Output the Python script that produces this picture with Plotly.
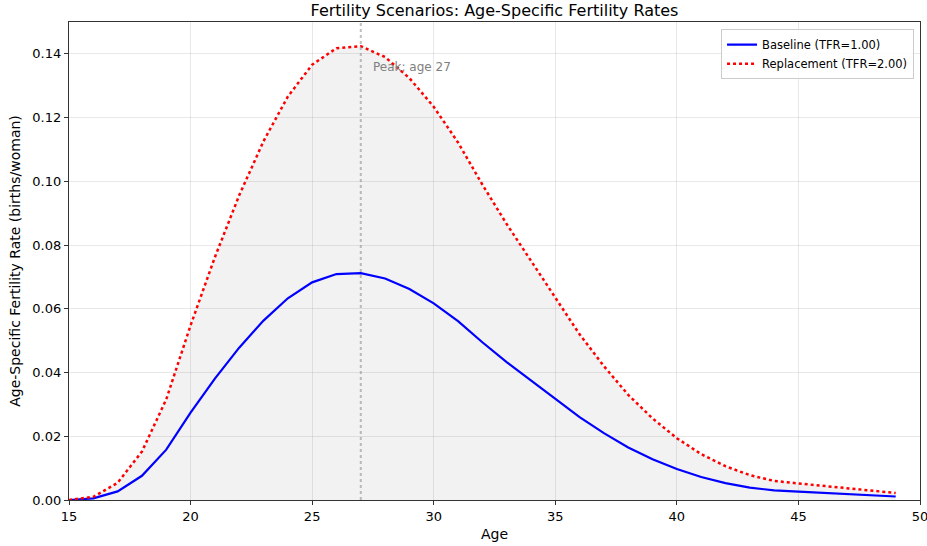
import plotly.graph_objects as go

ages = list(range(15, 50))
baseline = [0.0000, 0.0005, 0.0027, 0.0076, 0.0158, 0.0274, 0.0381, 0.0478, 0.0563,
            0.0633, 0.0683, 0.0709, 0.0712, 0.0695, 0.0662, 0.0617, 0.0561, 0.0495,
            0.0433, 0.0375, 0.0316, 0.0260, 0.0210, 0.0165, 0.0128, 0.0097, 0.0072,
            0.0053, 0.0039, 0.0030, 0.0026, 0.0022, 0.0018, 0.0015, 0.0011]
tfr_baseline = 1.0
tfr_replacement = 2.0
replacement = [v * tfr_replacement / tfr_baseline for v in baseline]
peak_age = ages[baseline.index(max(baseline))]

fig = go.Figure()

# shaded region under the higher scenario
fig.add_trace(go.Scatter(x=ages, y=replacement, mode="lines", line=dict(width=0),
                         fill="tozeroy", fillcolor="rgba(128,128,128,0.1)",
                         showlegend=False, hoverinfo="skip"))
fig.add_trace(go.Scatter(x=ages, y=baseline, mode="lines",
                         name=f"Baseline (TFR={tfr_baseline:.2f})",
                         line=dict(color="blue", width=2.2)))
fig.add_trace(go.Scatter(x=ages, y=replacement, mode="lines",
                         name=f"Replacement (TFR={tfr_replacement:.2f})",
                         line=dict(color="red", width=2.5, dash="dot")))

fig.add_shape(type="line", x0=peak_age, x1=peak_age, y0=0, y1=1, yref="paper",
              line=dict(color="rgba(128,128,128,0.5)", width=2, dash="dot"))
fig.add_annotation(x=peak_age + 0.42, y=0.1359, text=f"Peak: age {peak_age}",
                   showarrow=False, xanchor="left", yanchor="middle",
                   font=dict(size=12, color="gray"))

axis_common = dict(showline=True, linecolor="#333", linewidth=1.2, mirror=True,
                   ticks="outside", ticklen=4, tickcolor="#333",
                   showgrid=True, gridcolor="rgba(180,180,180,0.3)", gridwidth=1,
                   zeroline=False, tickfont=dict(size=13, color="black"),
                   automargin=False)

fig.update_xaxes(range=[15, 50], tickvals=[15, 20, 25, 30, 35, 40, 45, 50],
                 ticklabeloverflow="allow",
                 title=dict(text="Age", font=dict(size=14, color="black"), standoff=6),
                 **axis_common)
fig.update_yaxes(range=[0, 0.15], tickvals=[0, 0.02, 0.04, 0.06, 0.08, 0.10, 0.12, 0.14],
                 tickformat=".2f",
                 title=dict(text="Age-Specific Fertility Rate (births/woman)",
                            font=dict(size=14, color="black"), standoff=8),
                 **axis_common)

fig.update_layout(
    width=927, height=546,
    margin=dict(l=69, r=7, t=22, b=46),
    paper_bgcolor="white", plot_bgcolor="white",
    font=dict(family="DejaVu Sans", color="black"),
    title=dict(text="Fertility Scenarios: Age-Specific Fertility Rates",
               xref="paper", x=0.5, xanchor="center", y=0.981, yanchor="middle",
               font=dict(size=16, color="black")),
    legend=dict(x=0.993, y=0.985, xanchor="right", yanchor="top",
                bgcolor="rgba(255,255,255,0.8)", bordercolor="#ccc", borderwidth=1,
                font=dict(size=11.5), tracegroupgap=0, itemwidth=30),
    showlegend=True,
)

fig.write_html("out.html")
